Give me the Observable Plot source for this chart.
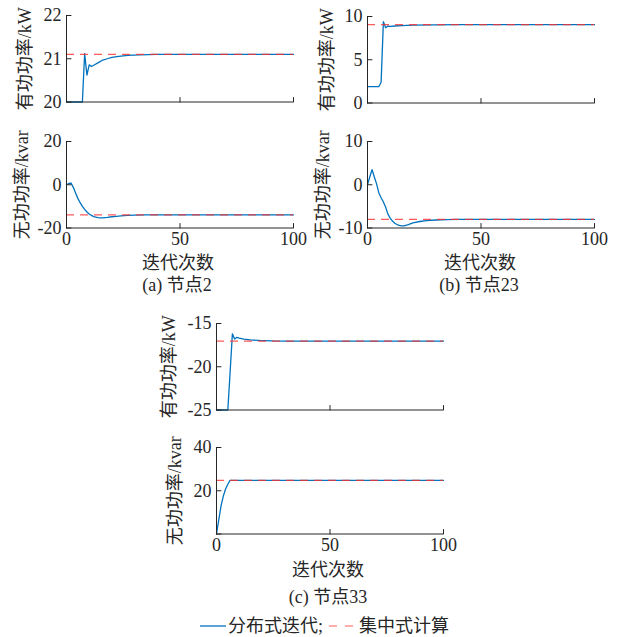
<!DOCTYPE html>
<html>
<head>
<meta charset="utf-8">
<script src="https://cdn.jsdelivr.net/npm/d3@7"></script>
<script src="https://cdn.jsdelivr.net/npm/@observablehq/plot@0.6"></script>
<style>
  html, body { margin: 0; padding: 0; background: #fff; }
  #fig { position: relative; width: 620px; height: 637px; background: #fff; overflow: hidden;
         font-family: "Liberation Serif", "Noto Sans CJK SC", serif; color: #262626; }
  .lbl { position: absolute; transform: translate(-50%, -50%); white-space: nowrap; font-size: 18px; line-height: 1; }
  .legend { position: absolute; left: 200px; top: 626px; transform: translateY(-50%); display: flex; align-items: center;
            font-size: 18px; line-height: 1; white-space: nowrap; }
</style>
</head>
<body>
<div id="fig"></div>
<script>
// ---------------- data ----------------
// Node 2
const itP2  = [0, 7, 8, 9, 10, 11, 12, 14, 16, 18, 20, 23, 27, 32, 40, 100];
const valP2 = [20, 20, 21.12, 20.62, 20.86, 20.82, 20.85, 20.91, 20.97, 21.0, 21.03, 21.055, 21.08, 21.09, 21.1, 21.1];
const refP2 = 21.1;
const itQ2  = [0, 1, 2, 3, 4, 5, 6, 7, 8, 9, 10, 11, 12, 13, 14, 15, 16, 18, 20, 22, 24, 27, 30, 35, 40, 100];
const valQ2 = [0, 0.6, 0.8, -1.2, -3.8, -6.3, -8.3, -10, -11.4, -12.6, -13.5, -14.2, -14.7, -15.0, -15.2, -15.3, -15.3, -15.1, -14.8, -14.6, -14.4, -14.2, -14.05, -13.95, -13.9, -13.9];
const refQ2 = -13.9;
// Node 23
const itP23  = [0, 5, 6, 7, 8, 9, 10, 12, 15, 20, 30, 40, 100];
const valP23 = [1.9, 1.9, 2.4, 9.4, 8.7, 8.9, 8.85, 8.9, 8.95, 9.0, 9.04, 9.06, 9.06];
const refP23 = 9.06;
const itQ23  = [0, 1, 2, 3, 4, 5, 6, 7, 8, 9, 10, 11, 12, 13, 14, 15, 16, 18, 20, 23, 26, 30, 35, 40, 100];
const valQ23 = [0, 1.8, 3.5, 1.8, 0.2, -1.9, -3.0, -4.0, -5.2, -6.8, -7.7, -8.4, -8.9, -9.2, -9.4, -9.5, -9.5, -9.2, -8.8, -8.5, -8.3, -8.15, -8.05, -8.0, -8.0];
const refQ23 = -8.0;
// Node 33
const itP33  = [0, 5, 6, 7, 8, 9, 10, 12, 15, 20, 25, 30, 100];
const valP33 = [-25, -25, -20.6, -16.2, -16.8, -16.6, -16.7, -16.8, -16.9, -16.97, -17.02, -17.04, -17.04];
const refP33 = -17.04;
const itQ33  = [0, 1, 2, 3, 4, 5, 6, 100];
const valQ33 = [0, 6.5, 13, 17.5, 20.8, 23, 24.8, 24.8];
const refQ33 = 24.8;

// tick labels
const xTicks = [0, 50, 100];
const yTicksP2 = [20, 21, 22],   yTicksQ2 = [-20, 0, 20];
const yTicksP23 = [0, 5, 10],    yTicksQ23 = [-10, 0, 10];
const yTicksP33 = [-25, -20, -15], yTicksQ33 = [0, 20, 40], yLabelsQ33 = [20, 40];

const labelP = "有功功率/kW";
const labelQ = "无功功率/kvar";
const labelX = "迭代次数";
const captions = ["(a) 节点2", "(b) 节点23", "(c) 节点33"];
const legendNames = ["分布式迭代;", "集中式计算"];

// ---------------- drawing ----------------
const BLUE = "#0072BD", RED = "#ff3030", AX = "#262626";
const FONT = '"Liberation Serif", "Noto Sans CJK SC", serif';
const fig = document.getElementById("fig");
const tickShape = { draw(ctx, l) { ctx.moveTo(0, 0); ctx.lineTo(0, -l); } };

function subplot({x0, y0, w = 227, h = 86.5, its, vals, ref, ydomain, yticks, ylabels, ylabel, labelOffset, showX}) {
  const mL = 62, mR = 16, mT = 10, mB = showX ? 30 : 10;
  const data = its.map((t, i) => ({t, v: vals[i]}));
  const chart = Plot.plot({
    width: mL + w + mR, height: mT + h + mB,
    marginLeft: mL, marginRight: mR, marginTop: mT, marginBottom: mB,
    x: {domain: [0, 100], axis: null, label: null},
    y: {domain: ydomain, axis: null, label: null},
    style: {fontFamily: FONT, fontSize: "18px", color: AX, background: "transparent", overflow: "visible"},
    marks: [
      Plot.line(data, {x: "t", y: "v", stroke: BLUE, strokeWidth: 1.3}),
      Plot.ruleY([ref], {stroke: RED, strokeWidth: 1.2, strokeDasharray: "8,6", strokeOpacity: 0.8}),
      Plot.ruleX([0], {stroke: AX, strokeWidth: 1}),
      Plot.ruleY([ydomain[0]], {stroke: AX, strokeWidth: 1}),
      Plot.vector(xTicks, {x: d => d, y: ydomain[0], length: 4.5, rotate: 0, anchor: "start", shape: tickShape, stroke: AX, strokeWidth: 1}),
      Plot.vector(yticks, {x: 0, y: d => d, length: 4.5, rotate: 90, anchor: "start", shape: tickShape, stroke: AX, strokeWidth: 1}),
      Plot.axisY({ticks: ylabels || yticks, tickSize: 0, tickPadding: 5, tickFormat: d => String(d), label: null, fill: AX}),
      showX ? Plot.axisX({ticks: xTicks, tickSize: 0, tickPadding: 4, tickFormat: d => String(d), label: null, fill: AX}) : null,
      Plot.text([ylabel], {text: d => d, frameAnchor: "left", textAnchor: "middle", lineAnchor: "middle", rotate: -90, dx: -labelOffset, fontSize: 18, fill: AX})
    ]
  });
  chart.style.position = "absolute";
  chart.style.left = (x0 - mL) + "px";
  chart.style.top = (y0 - mT) + "px";
  chart.style.maxWidth = "none";
  fig.appendChild(chart);
}

subplot({x0: 65.5, y0: 15,    its: itP2,  vals: valP2,  ref: refP2,  ydomain: [20, 22],   yticks: yTicksP2,  ylabel: labelP, labelOffset: 41.5, showX: false});
subplot({x0: 65.5, y0: 140.5, its: itQ2,  vals: valQ2,  ref: refQ2,  ydomain: [-20, 20],  yticks: yTicksQ2,  ylabel: labelQ, labelOffset: 44.5, showX: true});
subplot({x0: 366.7, y0: 16,   its: itP23, vals: valP23, ref: refP23, ydomain: [0, 10],    yticks: yTicksP23, ylabel: labelP, labelOffset: 40,   showX: false});
subplot({x0: 366.7, y0: 141,  its: itQ23, vals: valQ23, ref: refQ23, ydomain: [-10, 10],  yticks: yTicksQ23, ylabel: labelQ, labelOffset: 44,   showX: true});
subplot({x0: 216,  y0: 323,   its: itP33, vals: valP33, ref: refP33, ydomain: [-25, -15], yticks: yTicksP33, ylabel: labelP, labelOffset: 47,   showX: false});
subplot({x0: 216,  y0: 446.5, its: itQ33, vals: valQ33, ref: refQ33, ydomain: [0, 40],    yticks: yTicksQ33, ylabels: yLabelsQ33, ylabel: labelQ, labelOffset: 41, showX: true});

function addLabel(text, cx, cy) {
  const d = document.createElement("div");
  d.className = "lbl";
  d.textContent = text;
  d.style.left = cx + "px";
  d.style.top = cy + "px";
  fig.appendChild(d);
}
addLabel(labelX, 178, 263);
addLabel(labelX, 480, 263);
addLabel(labelX, 328, 570);
addLabel(captions[0], 177, 284.5);
addLabel(captions[1], 479, 285);
addLabel(captions[2], 328, 597);

// legend
const leg = document.createElement("div");
leg.className = "legend";
leg.innerHTML =
  `<svg width="27" height="10" style="display:block"><line x1="0" y1="5" x2="26" y2="5" stroke="${BLUE}" stroke-width="1.3"/></svg>` +
  `<span style="margin-left:1px">${legendNames[0]}</span>` +
  `<svg width="27" height="10" style="display:block;margin-left:6px"><line x1="0" y1="5" x2="26" y2="5" stroke="${RED}" stroke-opacity="0.8" stroke-width="1.2" stroke-dasharray="8,8"/></svg>` +
  `<span style="margin-left:3px">${legendNames[1]}</span>`;
fig.appendChild(leg);
</script>
</body>
</html>
